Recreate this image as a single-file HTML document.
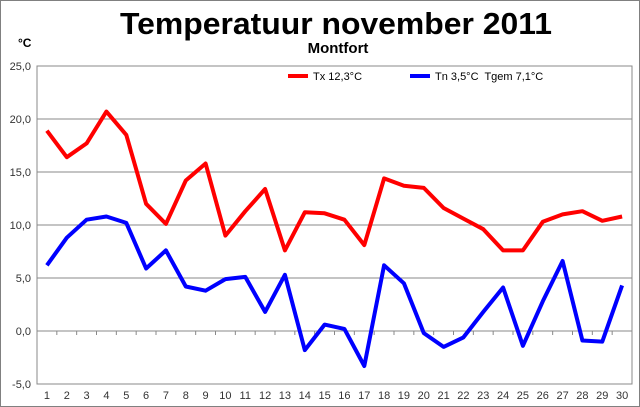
<!DOCTYPE html>
<html><head><meta charset="utf-8"><style>
body{margin:0;background:#fff}
svg{display:block;font-family:"Liberation Sans",Arial,sans-serif}
</style></head><body>
<svg id="s" width="640" height="407" viewBox="0 0 640 407">
<rect x="0.5" y="0.5" width="639" height="406" fill="#fff" stroke="#808080"/>
<text x="336" y="34" text-anchor="middle" font-size="31" font-weight="bold" textLength="432" lengthAdjust="spacingAndGlyphs">Temperatuur november 2011</text>
<text x="338" y="53" text-anchor="middle" font-size="15" font-weight="bold">Montfort</text>
<text x="18" y="47" font-size="12" font-weight="bold">°C</text>
<g id="g"></g>
<line x1="288" y1="76" x2="308" y2="76" stroke="#f00" stroke-width="4"/>
<text x="313" y="80" font-size="11">Tx 12,3°C</text>
<line x1="410" y1="76" x2="430" y2="76" stroke="#00f" stroke-width="4"/>
<text x="435" y="80" font-size="11" xml:space="preserve">Tn 3,5°C  Tgem 7,1°C</text>
</svg>
<script>
var g=document.getElementById('g'),h='';
var L=37,R=632,W=(R-L)/30;
function Y(v){return 331-v*10.6;}
for(var v=-5;v<=25;v+=5){var y=Y(v);
 if(v>-5)h+='<line x1="'+L+'" y1="'+y+'" x2="'+R+'" y2="'+y+'" stroke="#888" stroke-width="1"/>';
 h+='<text x="31" y="'+(y+4)+'" text-anchor="end" font-size="11" fill="#333">'+v.toFixed(1).replace('.',',')+'</text>';}
h+='<rect x="'+L+'" y="'+Y(25)+'" width="'+(R-L)+'" height="'+(Y(-5)-Y(25))+'" fill="none" stroke="#888"/>';
for(var i=0;i<=30;i++){var x=L+i*W;h+='<line x1="'+x+'" y1="331" x2="'+x+'" y2="335" stroke="#888"/>';}
for(var i=1;i<=30;i++){h+='<text x="'+(L+(i-0.5)*W)+'" y="399" text-anchor="middle" font-size="11" fill="#333">'+i+'</text>';}
var tx=[18.9,16.4,17.7,20.7,18.5,12.0,10.1,14.2,15.8,9.0,11.3,13.4,7.6,11.2,11.1,10.5,8.1,14.4,13.7,13.5,11.6,10.6,9.6,7.6,7.6,10.3,11.0,11.3,10.4,10.8];
var tn=[6.2,8.8,10.5,10.8,10.2,5.9,7.6,4.2,3.8,4.9,5.1,1.8,5.3,-1.8,0.6,0.2,-3.3,6.2,4.5,-0.2,-1.5,-0.6,1.8,4.1,-1.4,2.8,6.6,-0.9,-1.0,4.3];
function pl(a,c){return '<polyline fill="none" stroke="'+c+'" stroke-width="4" stroke-linejoin="round" points="'+a.map(function(v,i){return (L+(i+0.5)*W).toFixed(1)+','+Y(v).toFixed(1)}).join(' ')+'"/>';}
h+=pl(tx,'#f00')+pl(tn,'#00f');
g.innerHTML=h;
</script>
</body></html>
